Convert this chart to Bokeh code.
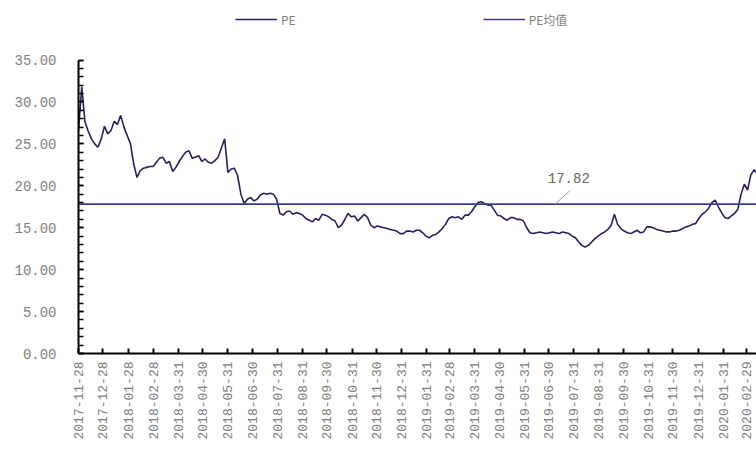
import math
import pandas as pd
from bokeh.plotting import figure
from bokeh.core.properties import value
from bokeh.models import (ColumnDataSource, FixedTicker, CustomJSTickFormatter,
                          Legend, LegendItem, Range1d, NumeralTickFormatter)
from bokeh.embed import file_html
from bokeh.resources import INLINE

# PE series, sampled every 4 calendar days from 2017-11-28
START = "2017-11-28"
STEP = "4D"
pe_values = [
    26.6, 31.8, 27.6, 26.5, 25.6, 25.0, 24.6, 25.6, 27.1, 26.2,
    26.6, 27.7, 27.3, 28.4, 27.0, 26.0, 25.0, 22.6, 21.0, 21.8,
    22.1, 22.2, 22.3, 22.3, 22.8, 23.3, 23.4, 22.7, 22.9, 21.7,
    22.2, 22.9, 23.5, 24.0, 24.2, 23.3, 23.4, 23.6, 22.9, 23.2,
    22.8, 22.7, 23.0, 23.4, 24.5, 25.6, 21.6, 22.0, 22.1, 21.2,
    19.0, 17.9, 18.4, 18.6, 18.2, 18.4, 18.9, 19.1, 19.0, 19.1,
    19.0, 18.4, 16.7, 16.5, 16.9, 17.0, 16.6, 16.8, 16.7, 16.5,
    16.1, 15.9, 15.7, 16.1, 15.9, 16.6, 16.5, 16.3, 16.0, 15.8,
    15.0, 15.3, 16.0, 16.7, 16.3, 16.4, 15.8, 16.2, 16.6, 16.2,
    15.3, 15.0, 15.2, 15.1, 15.0, 14.9, 14.8, 14.7, 14.6, 14.3,
    14.3, 14.6, 14.6, 14.5, 14.7, 14.7, 14.4, 14.0, 13.8, 14.1,
    14.2, 14.5, 14.9, 15.4, 16.1, 16.3, 16.2, 16.3, 16.0, 16.5,
    16.5, 16.9, 17.5, 18.0, 18.1, 17.9, 17.7, 17.7, 17.1, 16.5,
    16.4, 16.1, 15.9, 16.2, 16.2, 16.0, 16.0, 15.8, 15.0, 14.4,
    14.3, 14.4, 14.5, 14.4, 14.3, 14.4, 14.5, 14.4, 14.3, 14.5,
    14.4, 14.3, 14.0, 13.8, 13.3, 12.9, 12.7, 12.9, 13.3, 13.7,
    14.0, 14.3, 14.5, 14.8, 15.3, 16.6, 15.4, 14.9, 14.6, 14.4,
    14.3, 14.5, 14.7, 14.4, 14.5, 15.1, 15.1, 15.0, 14.8, 14.7,
    14.6, 14.5, 14.5, 14.6, 14.6, 14.7, 14.9, 15.1, 15.2, 15.4,
    15.5, 16.1, 16.6, 16.9, 17.3, 18.0, 18.3, 17.5, 16.8, 16.2,
    16.1, 16.4, 16.7, 17.2, 19.0, 20.2, 19.5, 21.3, 21.9, 21.5,
]
PE_MEAN = 17.82

tick_dates = [
    "2017-11-28", "2017-12-28", "2018-01-28", "2018-02-28", "2018-03-31",
    "2018-04-30", "2018-05-31", "2018-06-30", "2018-07-31", "2018-08-31",
    "2018-09-30", "2018-10-31", "2018-11-30", "2018-12-31", "2019-01-31",
    "2019-02-28", "2019-03-31", "2019-04-30", "2019-05-31", "2019-06-30",
    "2019-07-31", "2019-08-31", "2019-09-30", "2019-10-31", "2019-11-30",
    "2019-12-31", "2020-01-31", "2020-02-29",
]
y_ticks = [0, 5, 10, 15, 20, 25, 30, 35]

X_END = "2020-03-12"
Y_AXIS_MAX = 35
Y_VIEW_MAX = 42.1   # head room above the axis holds the legend


def ms(d):
    return pd.Timestamp(d).value / 1e6


dates = [ms(d) for d in pd.date_range(START, periods=len(pe_values), freq=STEP)]
src = ColumnDataSource(dict(date=dates, pe=pe_values))
mean_src = ColumnDataSource(dict(date=[ms(START), ms("2020-03-20")],
                                 pe=[PE_MEAN, PE_MEAN]))

TEXT = "#7f7f7f"
MONO = "Liberation Mono"

p = figure(width=756, height=453, x_axis_type="datetime",
           output_backend="svg", toolbar_location=None,
           x_range=Range1d(ms(START), ms(X_END)), y_range=Range1d(0, Y_VIEW_MAX),
           min_border_left=78, min_border_right=0,
           min_border_top=0, min_border_bottom=100)
p.outline_line_color = None
p.grid.grid_line_color = None

r_pe = p.line("date", "pe", source=src, line_color="#23235e", line_width=1.6)
r_mean = p.line("date", "pe", source=mean_src, line_color="#3c3c8e", line_width=1.6)

# mean value callout
p.text(x=[ms("2019-06-29")], y=[20.95], text=[f"{PE_MEAN:.2f}"],
       text_font=value(MONO), text_font_size="14px", text_color="#666666",
       text_align="left", text_baseline="middle")
p.segment(x0=[ms("2019-07-08")], y0=[PE_MEAN],
          x1=[ms("2019-07-26")], y1=[19.4],
          line_color="#9a9a9a", line_width=1)

# x axis: month-end ticks, vertical labels
xa = p.xaxis[0]
xa.ticker = FixedTicker(ticks=[ms(d) for d in tick_dates])
xa.formatter = CustomJSTickFormatter(code="""
    const d = new Date(tick);
    const m = String(d.getUTCMonth() + 1).padStart(2, '0');
    const dd = String(d.getUTCDate()).padStart(2, '0');
    return d.getUTCFullYear() + '-' + m + '-' + dd;
""")
xa.major_label_orientation = math.pi / 2
xa.major_label_text_font = MONO
xa.major_label_text_font_size = "13px"
xa.major_label_text_color = TEXT
xa.major_label_standoff = 8
xa.axis_line_color = "black"
xa.axis_line_width = 2
xa.major_tick_in = 5
xa.major_tick_out = 0
xa.major_tick_line_color = "black"
xa.major_tick_line_width = 2
xa.minor_tick_line_color = None

# y axis, drawn only over 0..35
ya = p.yaxis[0]
ya.bounds = (0, Y_AXIS_MAX)
ya.ticker = FixedTicker(ticks=y_ticks, minor_ticks=list(range(0, Y_AXIS_MAX + 1)))
ya.formatter = NumeralTickFormatter(format="0.00")
ya.major_label_text_font = MONO
ya.major_label_text_font_size = "14px"
ya.major_label_text_color = TEXT
ya.major_label_standoff = 22
ya.axis_line_color = "black"
ya.axis_line_width = 2
ya.major_tick_in = 5
ya.major_tick_out = 0
ya.minor_tick_in = 5
ya.minor_tick_out = 0
ya.major_tick_line_color = "black"
ya.minor_tick_line_color = "black"
ya.major_tick_line_width = 1.5
ya.minor_tick_line_width = 1.5

legend = Legend(items=[LegendItem(label="PE", renderers=[r_pe]),
                       LegendItem(label="PE均值", renderers=[r_mean])],
                orientation="horizontal", location=(157, 324),
                spacing=187, padding=0, margin=0,
                glyph_width=42, glyph_height=20, label_standoff=4,
                label_text_font="Noto Sans CJK SC", label_text_font_size="12px",
                label_text_color=TEXT, label_height=20, label_width=10,
                background_fill_alpha=0, border_line_color=None)
p.add_layout(legend, "center")

open("out.html", "w").write(file_html(p, INLINE))
